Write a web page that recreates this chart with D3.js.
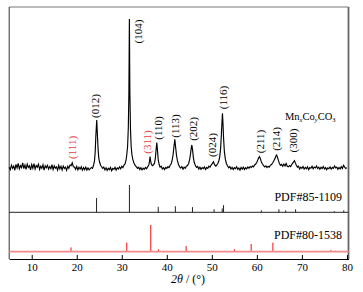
<!DOCTYPE html>
<html>
<head>
<meta charset="utf-8">
<script src="https://cdn.jsdelivr.net/npm/d3@7/dist/d3.min.js"></script>
<style>
  body { margin: 0; background: #fff; }
  text { font-family: "Liberation Serif", "Times New Roman", serif; }
</style>
</head>
<body>
<svg id="chart"></svg>
<script>
const pattern = [
  [5.00,38],[5.25,22],[5.50,51],[5.75,30],[6.00,45],[6.25,18],[6.50,56],[6.75,33],[7.00,62],[7.25,27],
  [7.50,48],[7.75,35],[8.00,66],[8.25,29],[8.50,52],[8.75,24],[9.00,58],[9.25,36],[9.50,47],[9.75,21],
  [10.00,55],[10.25,31],[10.50,61],[10.75,26],[11.00,49],[11.25,38],[11.50,57],[11.75,23],[12.00,44],[12.25,30],
  [12.50,53],[12.75,19],[13.00,47],[13.25,34],[13.50,50],[13.75,25],[14.00,42],[14.25,28],[14.50,55],[14.75,22],
  [15.00,46],[15.25,31],[15.50,40],[15.75,18],[16.00,49],[16.25,27],[16.50,43],[16.75,20],[17.00,45],[17.25,29],
  [17.50,38],[17.75,17],[18.00,44],[18.25,30],[18.50,52],[18.75,48],[19.00,66],[19.25,41],[19.50,39],[19.75,24],
  [20.00,42],[20.25,20],[20.50,37],[20.75,25],[21.00,40],[21.25,18],[21.50,35],[21.75,22],[22.00,38],[22.25,19],
  [22.50,33],[22.75,21],[23.00,28],[23.25,36],[23.50,30],[23.75,52],[23.95,80],[24.10,140],[24.25,245],[24.44,344],
  [24.60,240],[24.75,150],[24.90,95],[25.10,68],[25.30,50],[25.50,42],[25.75,30],[26.00,38],[26.25,20],[26.50,34],
  [26.75,17],[27.00,31],[27.25,22],[27.50,36],[27.75,15],[28.00,30],[28.25,24],[28.50,37],[28.75,19],[29.00,33],
  [29.25,26],[29.50,40],[29.75,28],[30.00,44],[30.25,35],[30.50,52],[30.75,60],[30.95,85],[31.10,115],[31.30,175],
  [31.45,290],[31.58,520],[31.69,1000],[31.80,520],[31.93,290],[32.08,175],[32.25,120],[32.45,88],[32.70,65],[33.00,48],
  [33.25,40],[33.50,30],[33.75,37],[34.00,22],[34.25,34],[34.50,20],[34.75,31],[35.00,24],[35.25,36],[35.50,28],
  [35.75,40],[36.00,52],[36.15,75],[36.29,106],[36.45,70],[36.60,55],[36.80,48],[37.00,52],[37.25,62],[37.45,95],
  [37.62,150],[37.78,197],[37.95,140],[38.10,85],[38.30,55],[38.50,38],[38.75,44],[39.00,27],[39.25,35],[39.50,22],
  [39.75,36],[40.00,30],[40.25,41],[40.50,35],[40.75,50],[41.00,62],[41.20,85],[41.40,120],[41.60,175],[41.78,219],
  [41.95,170],[42.15,115],[42.35,80],[42.60,55],[42.85,40],[43.10,32],[43.35,42],[43.60,25],[43.85,38],[44.10,30],
  [44.35,44],[44.60,48],[44.85,62],[45.05,85],[45.25,120],[45.42,160],[45.56,182],[45.72,150],[45.90,100],[46.10,68],
  [46.35,48],[46.60,36],[46.85,42],[47.10,26],[47.35,38],[47.60,24],[47.85,35],[48.10,29],[48.35,40],[48.60,23],
  [48.85,36],[49.10,30],[49.35,44],[49.60,38],[49.85,52],[50.10,60],[50.25,68],[50.36,73],[50.50,62],[50.70,50],
  [50.90,45],[51.10,52],[51.30,60],[51.55,78],[51.75,105],[51.95,160],[52.12,250],[52.25,330],[52.36,388],[52.48,320],
  [52.60,230],[52.78,140],[53.00,90],[53.25,60],[53.50,45],[53.75,34],[54.00,42],[54.25,26],[54.50,37],[54.75,22],
  [55.00,35],[55.25,28],[55.50,40],[55.75,24],[56.00,33],[56.25,19],[56.50,36],[56.75,25],[57.00,38],[57.25,22],
  [57.50,34],[57.75,27],[58.00,39],[58.25,30],[58.50,42],[58.75,36],[59.00,45],[59.25,40],[59.50,52],[59.75,58],
  [60.00,70],[60.20,85],[60.40,98],[60.60,106],[60.80,92],[61.00,72],[61.25,58],[61.50,48],[61.75,40],[62.00,46],
  [62.25,35],[62.50,44],[62.75,38],[63.00,50],[63.25,55],[63.50,65],[63.75,78],[64.00,92],[64.20,108],[64.40,117],
  [64.60,100],[64.80,80],[65.00,62],[65.25,50],[65.50,56],[65.75,44],[66.00,58],[66.25,46],[66.50,62],[66.75,44],
  [67.00,40],[67.25,48],[67.50,42],[67.75,55],[68.00,66],[68.20,74],[68.36,80],[68.55,64],[68.80,48],[69.00,38],
  [69.25,44],[69.50,26],[69.75,38],[70.00,30],[70.25,42],[70.50,25],[70.75,36],[71.00,28],[71.25,40],[71.50,22],
  [71.75,35],[72.00,31],[72.25,44],[72.50,27],[72.75,39],[73.00,33],[73.25,46],[73.50,30],[73.75,38],[74.00,24],
  [74.25,37],[74.50,29],[74.75,42],[75.00,26],[75.25,35],[75.50,21],[75.75,34],[76.00,28],[76.25,40],[76.50,25],
  [76.75,36],[77.00,30],[77.25,45],[77.50,33],[77.75,38],[78.00,24],[78.25,36],[78.50,27],[78.75,41],[79.00,30],
  [79.25,50],[79.50,38],[79.75,29],[80.00,35]
];

// peak indices (hkl), where the label sits (2theta) and at which intensity level
const peakHkl    = ['(111)', '(012)', '(104)', '(311)', '(110)', '(113)', '(202)', '(024)', '(116)', '(211)', '(214)', '(300)'];
const peakAt     = [18.96, 24.07, 33.69, 35.56, 38.13, 41.84, 45.91, 50.0, 52.58, 60.62, 64.18, 68.07];
const peakLevel  = [166, 435, 919, 201, 292, 305, 286, 182, 490, 205, 221, 211];
const peakSpinel = [true, false, false, true, false, false, false, false, false, false, false, false];

// reference cards
const pdf85Angles = [24.4, 31.7, 38.1, 41.9, 45.7, 50.5, 52.3, 52.6, 61.0, 64.9, 66.4, 68.6, 77.2, 79.3];
const pdf85Int    = [52, 100, 20, 22, 19, 11, 14, 26, 7, 11, 7, 11, 4, 7];
const pdf80Angles = [18.73, 31.11, 36.44, 38.13, 44.29, 55.02, 58.73, 63.56, 68.0, 73.33, 76.44, 77.4];
const pdf80Int    = [16, 34, 100, 9, 21, 9, 29, 34, 4, 4, 7, 4];

const xTicks = [10, 20, 30, 40, 50, 60, 70, 80];

class xrdChart {
    constructor(_config) {
        this.config = {
            parentElement: _config.parentElement,
            containerWidth: _config.containerWidth || 363,
            containerHeight: _config.containerHeight || 292,
            left: 9.2, right: 348.5, top: 7, bottom: 259
        };
        this.initVis();
    }

    initVis() {
        let vis = this;
        const c = vis.config;

        vis.svg = d3.select(c.parentElement)
            .attr('width', c.containerWidth)
            .attr('height', c.containerHeight);

        vis.xScale = d3.scaleLinear().domain([5, 80.35]).range([c.left, c.right]);
        vis.yScale = d3.scaleLinear().domain([0, 1000]).range([173, 19]);
        vis.y85 = d3.scaleLinear().domain([0, 100]).range([212.3, 185]);
        vis.y80 = d3.scaleLinear().domain([0, 100]).range([251.7, 225]);

        vis.renderVis();
    }

    renderVis() {
        let vis = this;
        const c = vis.config;
        const x = vis.xScale;

        // frame
        vis.svg.append('line').attr('x1', c.left).attr('x2', c.right).attr('y1', c.top).attr('y2', c.top)
            .attr('stroke', '#777').attr('stroke-width', 1);
        vis.svg.append('line').attr('x1', c.left).attr('x2', c.left).attr('y1', c.top).attr('y2', c.bottom)
            .attr('stroke', '#333').attr('stroke-width', 1);
        vis.svg.append('line').attr('x1', c.right).attr('x2', c.right).attr('y1', c.top).attr('y2', c.bottom)
            .attr('stroke', '#666').attr('stroke-width', 1.8);

        // separator / card baselines
        vis.svg.append('line').attr('x1', c.left).attr('x2', c.right)
            .attr('y1', vis.y85(0)).attr('y2', vis.y85(0))
            .attr('stroke', '#222').attr('stroke-width', 1);
        vis.svg.append('line').attr('x1', c.left).attr('x2', c.right)
            .attr('y1', vis.y80(0)).attr('y2', vis.y80(0))
            .attr('stroke', '#f28a8a').attr('stroke-width', 1.8);

        // pattern
        const line = d3.line().x(d => x(d[0])).y(d => vis.yScale(d[1]));
        vis.svg.append('path')
            .datum(pattern)
            .attr('d', line)
            .attr('fill', 'none')
            .attr('stroke', '#000')
            .attr('stroke-width', 1.15)
            .attr('stroke-linejoin', 'miter');

        // sticks
        vis.svg.append('g').selectAll('line')
            .data(pdf85Angles)
            .join('line')
            .attr('x1', d => x(d)).attr('x2', d => x(d))
            .attr('y1', vis.y85(0))
            .attr('y2', (d, i) => vis.y85(pdf85Int[i]))
            .attr('stroke', '#222').attr('stroke-width', 1);

        vis.svg.append('g').selectAll('line')
            .data(pdf80Angles)
            .join('line')
            .attr('x1', d => x(d)).attr('x2', d => x(d))
            .attr('y1', vis.y80(0) - 0.9)
            .attr('y2', (d, i) => vis.y80(pdf80Int[i]))
            .attr('stroke', '#f01010').attr('stroke-width', 1);

        // peak labels
        vis.svg.append('g').selectAll('text')
            .data(peakHkl)
            .join('text')
            .attr('transform', (d, i) => `translate(${x(peakAt[i])},${vis.yScale(peakLevel[i])}) rotate(-90)`)
            .attr('text-anchor', 'middle')
            .attr('dy', '0.35em')
            .attr('font-size', 11)
            .attr('fill', (d, i) => peakSpinel[i] ? '#e8413c' : '#000')
            .text(d => d);

        // phase labels
        const mn = vis.svg.append('text').attr('x', 285).attr('y', 120).attr('font-size', 10.5);
        mn.append('tspan').text('Mn');
        mn.append('tspan').attr('dy', 2).attr('font-size', 6.5).attr('font-style', 'italic').text('x');
        mn.append('tspan').attr('dy', -2).text('Co');
        mn.append('tspan').attr('dy', 2).attr('font-size', 6.5).attr('font-style', 'italic').text('y');
        mn.append('tspan').attr('dy', -2).text('CO');
        mn.append('tspan').attr('dy', 2).attr('font-size', 6.5).text('3');

        vis.svg.append('text').attr('x', 342).attr('y', 200.7)
            .attr('text-anchor', 'end').attr('font-size', 12).text('PDF#85-1109');
        vis.svg.append('text').attr('x', 342).attr('y', 239.3)
            .attr('text-anchor', 'end').attr('font-size', 12).text('PDF#80-1538');

        // x axis
        const xAxis = d3.axisBottom(x)
            .tickValues(xTicks)
            .tickSizeInner(-4)
            .tickSizeOuter(0)
            .tickPadding(4);
        const xAxisG = vis.svg.append('g')
            .attr('class', 'axis x-axis')
            .attr('transform', `translate(0,${c.bottom})`)
            .call(xAxis);
        xAxisG.select('.domain').attr('stroke', '#000').attr('stroke-width', 1);
        xAxisG.selectAll('.tick line').attr('stroke', '#000');
        xAxisG.selectAll('.tick text')
            .attr('font-family', '"Liberation Serif", "Times New Roman", serif')
            .attr('font-size', 11)
            .attr('fill', '#000');

        const title = vis.svg.append('text')
            .attr('x', 188).attr('y', 283)
            .attr('text-anchor', 'middle')
            .attr('font-size', 12);
        title.append('tspan').attr('font-style', 'italic').text('2θ');
        title.append('tspan').text(' / (°)');
    }
}

new xrdChart({ parentElement: '#chart' });
</script>
</body>
</html>
